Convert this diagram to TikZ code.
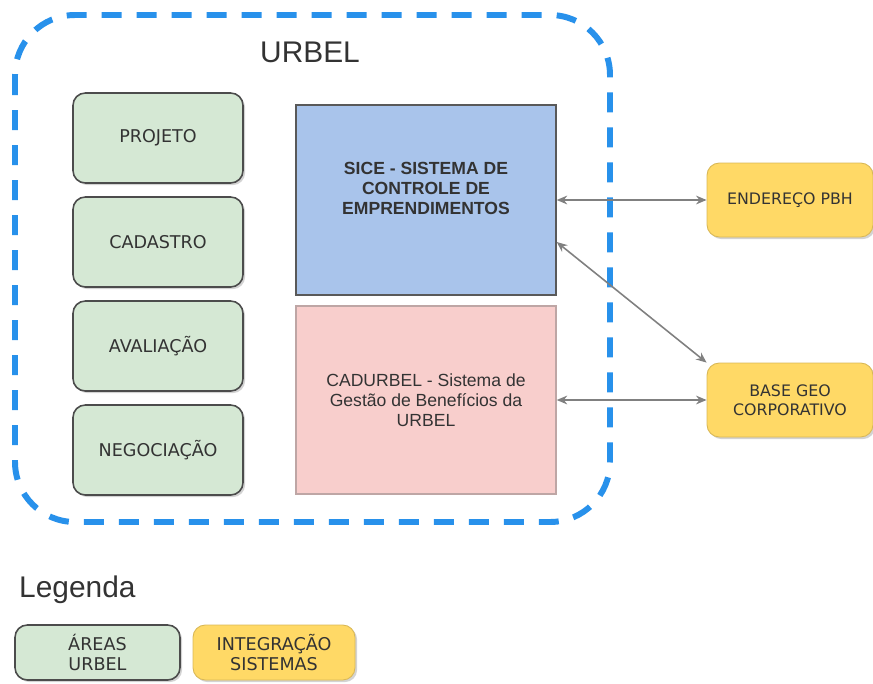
\documentclass[tikz,border=0pt]{standalone}
\usepackage{fontspec}
\setmainfont{Liberation Sans}
\newfontfamily\boxfont{DejaVu Sans}
\usepackage{tikz}
\usetikzlibrary{arrows.meta,shadows}
\definecolor{urbelblue}{RGB}{40,145,235}
\definecolor{areagreen}{RGB}{213,232,212}
\definecolor{sicefill}{RGB}{169,196,235}
\definecolor{cadfill}{RGB}{248,206,204}
\definecolor{integyellow}{RGB}{255,217,102}
\definecolor{txtgray}{RGB}{51,51,51}
\tikzset{
    area/.style={draw=black!70, line width=0.9pt, fill=areagreen, rounded corners=7pt,
        minimum width=3.4cm, minimum height=1.8cm, font=\boxfont\fontsize{10}{12}\selectfont,
        text=txtgray, align=center,
        drop shadow={opacity=0.35, shadow xshift=1.2pt, shadow yshift=-1.2pt}},
    sistema/.style={draw=black!65, line width=0.8pt, minimum width=5.2cm,
        font=\fontsize{10}{11.5}\selectfont, text=txtgray, align=center},
    integ/.style={draw=integyellow!85!black, line width=0.5pt, fill=integyellow, rounded corners=7pt,
        minimum width=3.32cm, minimum height=1.48cm, font=\boxfont\fontsize{9}{11}\selectfont,
        text=txtgray, align=center,
        drop shadow={opacity=0.35, shadow xshift=1.2pt, shadow yshift=-1.2pt}},
    link/.style={draw=black!50, line width=0.9pt, {Stealth[length=6pt,width=5pt]}-{Stealth[length=6pt,width=5pt]}},
}
\begin{document}
\begin{tikzpicture}
    \useasboundingbox (0,0) rectangle (17.46,-13.68);
    \draw[urbelblue, line width=3.4pt, dash pattern=on 0.4cm off 0.3cm, rounded corners=1.2cm]
        (0.30,-0.30) rectangle (12.2,-10.44);
    \node[text=txtgray, font=\fontsize{17}{20}\selectfont] (urbel) at (6.2,-1.04) {URBEL};

    \node[area] (projeto) at (3.16,-2.76) {PROJETO};
    \node[area] (cadastro) at (3.16,-4.84) {CADASTRO};
    \node[area] (avaliacao) at (3.16,-6.92) {AVALIAÇÃO};
    \node[area] (negociacao) at (3.16,-9.0) {NEGOCIAÇÃO};

    \node[sistema, fill=sicefill, minimum height=3.8cm, font=\bfseries\fontsize{10}{11.5}\selectfont] (sice) at (8.52,-4.0)
        {SICE - SISTEMA DE\\CONTROLE DE\\EMPRENDIMENTOS\\[0.05cm]};
    \node[sistema, fill=cadfill, draw=cadfill!70!black!80, minimum height=3.76cm] (cadurbel) at (8.52,-8.0)
        {CADURBEL - Sistema de\\Gestão de Benefícios da\\URBEL};

    \node[integ] (endereco) at (15.8,-4.0) {ENDEREÇO PBH};
    \node[integ] (basegeo) at (15.8,-8.0) {BASE GEO\\CORPORATIVO};

    \draw[link] (sice.east) -- (endereco.west);
    \draw[link] ([yshift=-0.84cm]sice.east) -- (basegeo.north west);
    \draw[link] (cadurbel.east) -- (basegeo.west);

    \node[anchor=west, text=txtgray, font=\fontsize{17}{20}\selectfont] (legenda) at (0.26,-11.8) {Legenda};
    \node[area, minimum width=3.3cm, minimum height=1.1cm, font=\boxfont\fontsize{10}{11}\selectfont] (legarea) at (1.95,-13.05) {ÁREAS\\URBEL};
    \node[integ, minimum width=3.24cm, minimum height=1.1cm, font=\boxfont\fontsize{10}{11}\selectfont] (leginteg) at (5.48,-13.05) {INTEGRAÇÃO\\SISTEMAS};
\end{tikzpicture}
\end{document}
